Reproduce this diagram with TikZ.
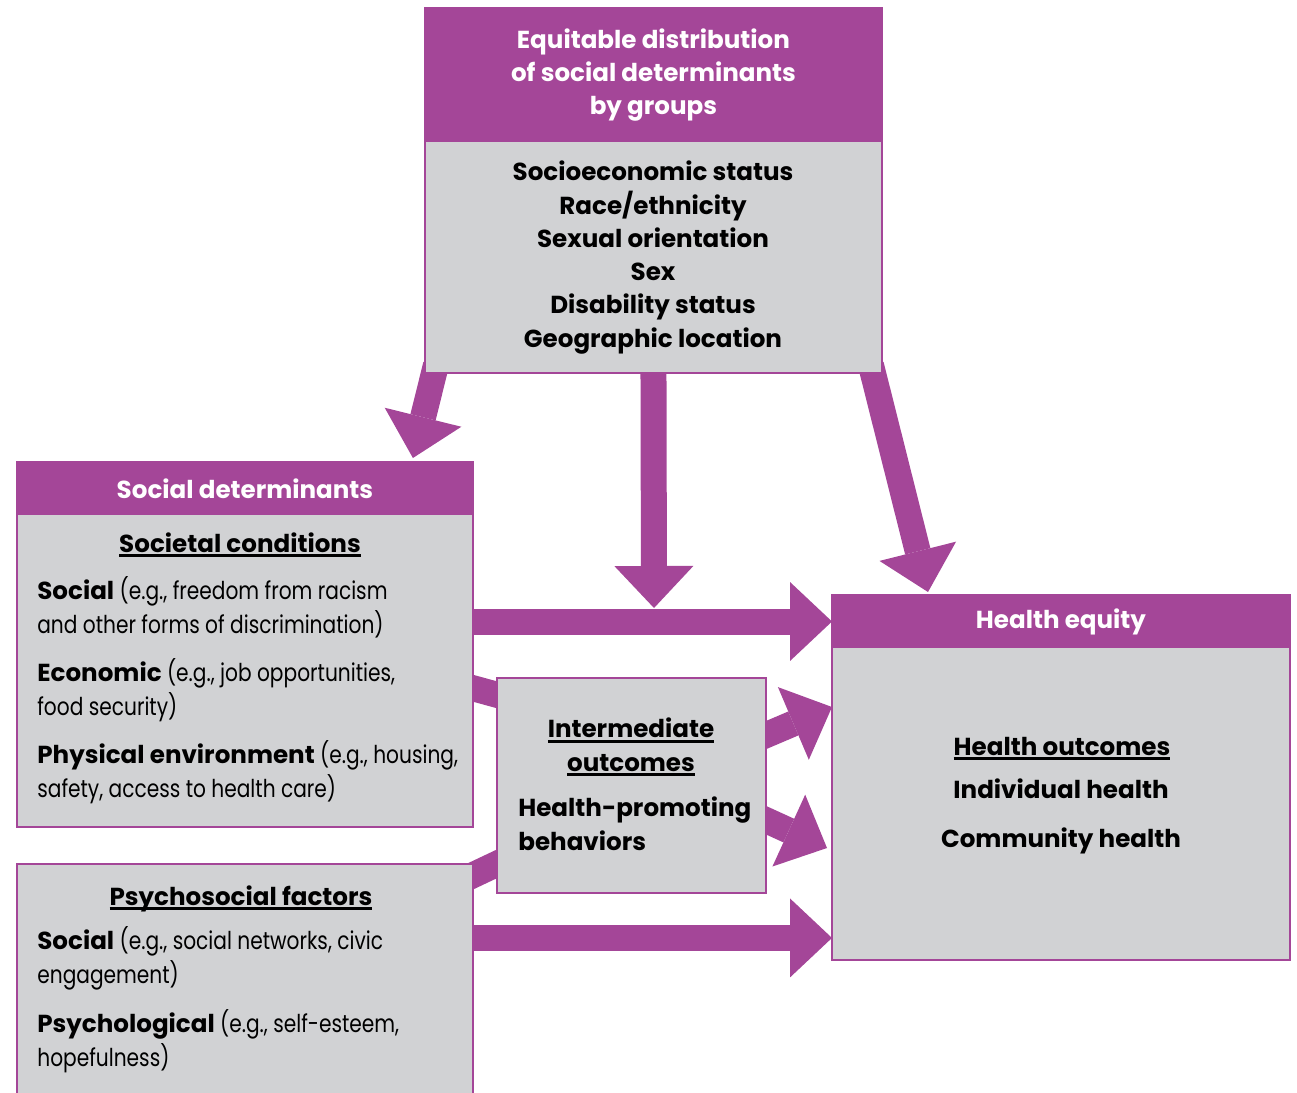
\documentclass[tikz,border=0pt]{standalone}
\usepackage{fontspec}
\setmainfont{Poppins}
\newfontfamily\rgf{Poppins}[FakeStretch=0.82]
\usetikzlibrary{arrows.meta,backgrounds}
\definecolor{pur}{RGB}{164,70,152}
\definecolor{gry}{RGB}{209,210,212}
\newcommand\ulx[1]{\sbox0{#1}\rlap{\rule[-3pt]{\wd0}{1.6pt}}\usebox0}
\newcommand\bd[1]{{\normalfont\bfseries #1}}
\newcommand\bfs{\bfseries\fontsize{14}{19.2}\selectfont}
\newcommand\rgs{\rgf\fontsize{14}{19.2}\selectfont}
\begin{document}
\begin{tikzpicture}[x=0.02cm, y=-0.02cm,
 box/.style={draw=pur, line width=1.1pt, fill=gry, anchor=north west, inner sep=0pt, outer sep=0pt},
 headbar/.style={fill=pur, anchor=north west, inner sep=0pt, outer sep=0pt, text=white, font=\bfs, align=center},
 bigarrow/.style={draw=pur, line width=0.52cm, -{Triangle[length=0.84cm,width=1.58cm,line width=0pt]}},
 shaft/.style={draw=pur, line width=0.52cm},
 btxt/.style={font=\bfs, inner sep=0pt, anchor=base, align=center},
 ltxt/.style={font=\rgs, inner sep=0pt, anchor=base west, align=left},
]
\useasboundingbox (0,0) rectangle (1297,1092);

% top box
\node[box, minimum width=9.14cm, minimum height=7.3cm] (top) at (425,8) {};
\node[headbar, minimum width=9.14cm, minimum height=2.68cm, font=\bfseries\fontsize{14}{18.9}\selectfont] (tophead) at (top.north west) {Equitable distribution\\of social determinants\\by groups};
\node[btxt, font=\bfseries\fontsize{14}{18.9}\selectfont] (topbody) at (653,347) {Socioeconomic status\\Race/ethnicity\\Sexual orientation\\Sex\\Disability status\\Geographic location};

% social determinants
\node[box, minimum width=9.12cm, minimum height=7.3cm] (sd) at (17,462) {};
\node[headbar, minimum width=9.12cm, minimum height=1.06cm] (sdhead) at (sd.north west) {Social determinants};
\node[btxt] (soccond) at (240,552) {\ulx{Societal conditions}};
\node[ltxt] (sdsoc) at (37,633) {\bd{Social} (e.g., freedom from racism\\and other forms of discrimination)};
\node[ltxt] (sdeco) at (37,715) {\bd{Economic} (e.g., job opportunities,\\food security)};
\node[ltxt] (sdphy) at (37,797) {\bd{Physical environment} (e.g., housing,\\safety, access to health care)};

% psychosocial
\node[box, minimum width=9.12cm, minimum height=4.8cm] (psy) at (17,864) {};
\node[btxt] (psyhead) at (241,905) {\ulx{Psychosocial factors}};
\node[ltxt] (psysoc) at (37,983) {\bd{Social} (e.g., social networks, civic\\engagement)};
\node[ltxt] (psypsy) at (37,1066) {\bd{Psychological} (e.g., self-esteem,\\hopefulness)};

% intermediate
\node[box, minimum width=5.38cm, minimum height=4.3cm] (inter) at (497,678) {};
\node[btxt] (interhead) at (631,771) {\ulx{Intermediate}\\\ulx{outcomes}};
\node[btxt, anchor=base west, align=left] (interbeh) at (518,850) {Health-promoting\\behaviors};

% health equity
\node[box, minimum width=9.16cm, minimum height=7.3cm] (he) at (832,595) {};
\node[headbar, minimum width=9.16cm, minimum height=1.06cm] (hehead) at (he.north west) {Health equity};
\node[btxt] (heout) at (1062,755) {\ulx{Health outcomes}};
\node[btxt] (heind) at (1061,798) {Individual health};
\node[btxt] (hecom) at (1061,847) {Community health};

\coordinate (hein) at ([shift={(0,-22)}]he.south west);

\begin{scope}[on background layer]
\draw[bigarrow] ([shift={(11,-8)}]top.south west) -- ([shift={(-60,-4)}]sd.north east);
\draw[bigarrow] ([shift={(0,-8)}]top.south) -- ([shift={(-178,13)}]he.north west);
\draw[bigarrow] ([shift={(-11,-8)}]top.south east) -- ([shift={(96,-3)}]he.north west);
\draw[bigarrow] (hehead.west -| sd.east) -- (hehead.west);
\draw[shaft] ([shift={(-8,224)}]sd.north east) -- ([shift={(8,19)}]inter.north west);
\draw[shaft] ([shift={(-8,15)}]psy.north east) -- ([shift={(8,182)}]inter.north west);
\draw[bigarrow] ([shift={(-8,60.5)}]inter.north east) -- ([shift={(0,112)}]he.north west);
\draw[bigarrow] ([shift={(-8,138.5)}]inter.north east) -- ([shift={(-5,253)}]he.north west);
\draw[bigarrow] (hein -| psy.east) -- (hein);
\end{scope}
\end{tikzpicture}
\end{document}
